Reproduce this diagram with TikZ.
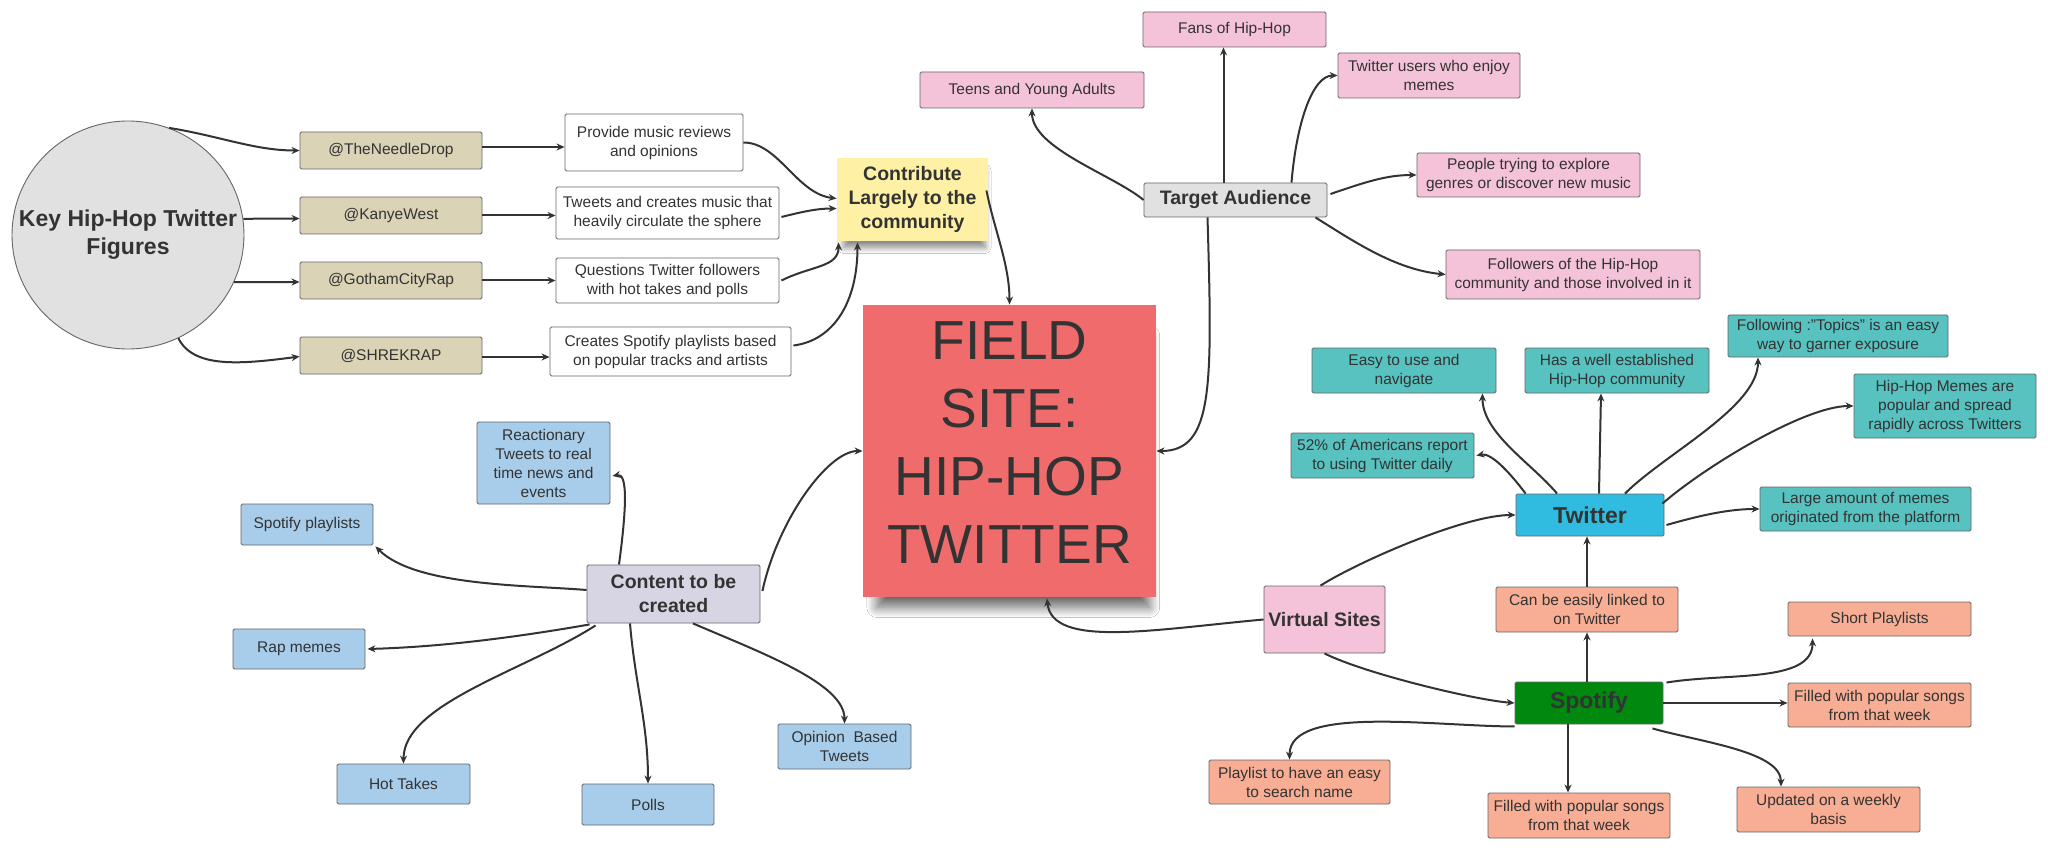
\documentclass[tikz,border=0pt]{standalone}
\usepackage{fontspec}
\setmainfont{Liberation Sans}
\usetikzlibrary{arrows.meta,calc,shapes.geometric,shadows.blur}
\definecolor{txt}{HTML}{333333}
\definecolor{bord}{HTML}{666666}
\definecolor{cgray}{HTML}{E1E1E1}
\definecolor{tan}{HTML}{DAD3B5}
\definecolor{pinkc}{HTML}{F5C3D9}
\definecolor{tealc}{HTML}{57C2BF}
\definecolor{salmon}{HTML}{F7AE94}
\definecolor{lblue}{HTML}{A8CDEA}
\definecolor{fieldred}{HTML}{F06C6C}
\definecolor{yel}{HTML}{FEF0A4}
\definecolor{lav}{HTML}{D7D5E3}
\definecolor{tblue}{HTML}{2FBCE0}
\definecolor{sgreen}{HTML}{00880F}
\begin{document}
\begin{tikzpicture}[x=1pt,y=-1pt,
  box/.style={draw=bord, line width=0.9pt, rounded corners=1.5pt, inner sep=0pt, align=center, text=txt, font=\fontsize{15.5}{19}\selectfont},
  hdr/.style={font=\bfseries\fontsize{19.5}{24}\selectfont},
  big/.style={font=\bfseries\fontsize{23}{28}\selectfont},
  arr/.style={draw=txt, line width=2pt, -{Stealth[length=8pt,width=7pt]}},
  shadbig/.style={blur shadow={shadow blur steps=16, shadow scale=0.93, shadow xshift=4pt, shadow yshift=-22pt, shadow blur radius=11pt, shadow opacity=60}},
  shadsmall/.style={blur shadow={shadow blur steps=12, shadow scale=0.94, shadow xshift=2pt, shadow yshift=-10pt, shadow blur radius=6pt, shadow opacity=45}}
]
\fill[white] (0,0) rectangle (2048,850);
\useasboundingbox (0,0) rectangle (2048,850);

% left cluster
\node[ellipse, draw=bord, line width=0.9pt, fill=cgray, minimum width=232pt, minimum height=228pt, inner sep=0pt,
  label={[big, text=txt, align=center]center:Key Hip-Hop Twitter\\Figures}] (circ) at (128,235) {};
\node[box, fill=tan, minimum width=182pt, minimum height=37pt] (needle) at (391,150.5) {@TheNeedleDrop};
\node[box, fill=tan, minimum width=182pt, minimum height=37pt] (kanye) at (391,215.5) {@KanyeWest};
\node[box, fill=tan, minimum width=182pt, minimum height=37pt] (gotham) at (391,280.5) {@GothamCityRap};
\node[box, fill=tan, minimum width=182pt, minimum height=37pt] (shrek) at (391,355.5) {@SHREKRAP};
\node[box, fill=white, minimum width=178pt, minimum height=57pt] (provide) at (654,142.5) {Provide music reviews\\and opinions};
\node[box, fill=white, minimum width=223pt, minimum height=52pt] (tweets) at (667.5,213) {Tweets and creates music that\\heavily circulate the sphere};
\node[box, fill=white, minimum width=223pt, minimum height=45pt] (questions) at (667.5,280.5) {Questions Twitter followers\\with hot takes and polls};
\node[box, fill=white, minimum width=241pt, minimum height=49pt] (creates) at (670.5,351.5) {Creates Spotify playlists based\\on popular tracks and artists};

\node[box, draw=none, rounded corners=0pt, fill=yel, shadsmall, hdr, minimum width=151pt, minimum height=83pt] (contrib) at (912.5,199.5) {Contribute\\Largely to the\\community};
\node[box, draw=none, rounded corners=0pt, fill=fieldred, shadbig, font=\fontsize{55}{68}\selectfont, text depth=17pt, minimum width=293pt, minimum height=292pt] (field) at (1009.5,451) {FIELD\\SITE:\\HIP-HOP\\TWITTER};

% target cluster
\node[box, fill=pinkc, minimum width=183pt, minimum height=35pt] (fans) at (1234.5,29.5) {Fans of Hip-Hop};
\node[box, fill=pinkc, minimum width=224pt, minimum height=36pt] (teens) at (1032,90) {Teens and Young Adults};
\node[box, fill=pinkc, minimum width=182pt, minimum height=45pt] (twusers) at (1429,75.5) {Twitter users who enjoy\\memes};
\node[box, fill=pinkc, minimum width=223pt, minimum height=44pt] (people) at (1528.5,175) {People trying to explore\\genres or discover new music};
\node[box, fill=pinkc, minimum width=254pt, minimum height=49pt] (followers) at (1573,274.5) {Followers of the Hip-Hop\\community and those involved in it};
\node[box, fill=cgray, hdr, minimum width=183pt, minimum height=34pt] (target) at (1235.5,200) {Target Audience};

% twitter cluster
\node[box, fill=tealc, minimum width=184pt, minimum height=45pt] (easy) at (1404,370.5) {Easy to use and\\navigate};
\node[box, fill=tealc, minimum width=184pt, minimum height=45pt] (has) at (1617,370.5) {Has a well established\\Hip-Hop community};
\node[box, fill=tealc, minimum width=220pt, minimum height=42pt] (following) at (1838,336) {Following :"Topics" is an easy\\way to garner exposure};
\node[box, fill=tealc, minimum width=182pt, minimum height=64pt] (memes) at (1945,406) {Hip-Hop Memes are\\popular and spread\\rapidly across Twitters};
\node[box, fill=tealc, minimum width=183pt, minimum height=45pt] (pct) at (1382.5,455.5) {52\% of Americans report\\to using Twitter daily};
\node[box, fill=tblue, big, minimum width=148pt, minimum height=42pt] (twitter) at (1590,515) {Twitter};
\node[box, fill=tealc, minimum width=211pt, minimum height=44pt] (large) at (1865.5,509) {Large amount of memes\\originated from the platform};

% spotify cluster
\node[box, fill=pinkc, hdr, minimum width=121pt, minimum height=67pt] (virtual) at (1324.5,619.5) {Virtual Sites};
\node[box, fill=salmon, minimum width=182pt, minimum height=45pt] (linked) at (1587,609.5) {Can be easily linked to\\on Twitter};
\node[box, fill=salmon, minimum width=183pt, minimum height=34pt] (short) at (1879.5,619) {Short Playlists};
\node[box, fill=sgreen, big, minimum width=148pt, minimum height=42pt] (spotify) at (1589,703) {Spotify};
\node[box, fill=salmon, minimum width=183pt, minimum height=44pt] (filledr) at (1879.5,705) {Filled with popular songs\\from that week};
\node[box, fill=salmon, minimum width=181pt, minimum height=44pt] (playlist) at (1299.5,782) {Playlist to have an easy\\to search name};
\node[box, fill=salmon, minimum width=182pt, minimum height=45pt] (filledb) at (1579,815.5) {Filled with popular songs\\from that week};
\node[box, fill=salmon, minimum width=183pt, minimum height=45pt] (updated) at (1828.5,809.5) {Updated on a weekly\\basis};

% content cluster
\node[box, fill=lblue, minimum width=133pt, minimum height=82pt] (react) at (543.5,463) {Reactionary\\Tweets to real\\time news and\\events};
\node[box, fill=lblue, minimum width=132pt, minimum height=41pt] (spotpl) at (307,524.5) {Spotify playlists};
\node[box, fill=lav, hdr, minimum width=173pt, minimum height=58pt] (content) at (673.5,594) {Content to be\\created};
\node[box, fill=lblue, minimum width=132pt, minimum height=40pt] (rap) at (299,649) {Rap memes};
\node[box, fill=lblue, minimum width=133pt, minimum height=40pt] (hot) at (403.5,784) {Hot Takes};
\node[box, fill=lblue, minimum width=132pt, minimum height=41pt] (polls) at (648,804.5) {Polls};
\node[box, fill=lblue, minimum width=133pt, minimum height=45pt] (opinion) at (844.5,746.5) {Opinion\ \ Based\\Tweets};

% connectors: left
\draw[arr] (circ.69) .. controls +(50,8) and +(-45,0) .. (needle.west);
\draw[arr] (circ.8) -- ($(kanye.west)+(0,3)$);
\draw[arr] (circ.-24) -- ($(gotham.west)+(0,1.5)$);
\draw[arr] (circ.-64) .. controls +(15,30) and +(-60,8) .. ($(shrek.west)+(0,1)$);
\draw[arr] ($(needle.east)+(0,-3.5)$) -- ($(provide.west)+(0,4.5)$);
\draw[arr] (kanye.east) -- (kanye.east -| tweets.west);
\draw[arr] (gotham.east) -- (gotham.east -| questions.west);
\draw[arr] ($(shrek.east)+(0,1.5)$) -- ($(shrek.east -| creates.west)+(0,1.5)$);
\draw[arr] (provide.east) .. controls +(35,0) and +(-40,-5) .. ($(contrib.west)+(0,-1)$);
\draw[arr] ($(tweets.east)+(2,4)$) .. controls +(20,-5) and +(-20,0) .. ($(contrib.west)+(0,9)$);
\draw[arr] ($(questions.east)+(2,0)$) .. controls +(30,-15) and +(0,25) .. ($(contrib.south west)+(2,1)$);
\draw[arr] ($(creates.east)+(2,-6)$) .. controls +(40,-5) and +(0,60) .. ($(contrib.south)+(-55,1)$);
\draw[arr] ($(contrib.east)+(-2,-9)$) .. controls +(8,40) and +(0,-40) .. (field.north);

% connectors: target
\draw[arr] ($(target.north)+(-12,0)$) -- ($(fans.south)+(-11,0)$);
\draw[arr] (target.west) .. controls +(-30,-25) and +(0,40) .. (teens.south);
\draw[arr] ($(target.north)+(56,0)$) .. controls +(5,-60) and +(-25,0) .. (twusers.west);
\draw[arr] ($(target.east)+(3,-6)$) .. controls +(35,-12) and +(-30,0) .. (people.west);
\draw[arr] ($(target.south east)+(-12,0)$) .. controls +(40,25) and +(-50,-5) .. (followers.west);
\draw[arr] ($(target.south)+(-28,0)$) .. controls +(5,170) and +(57,0) .. (field.east);

% connectors: content
\draw[arr] ($(content.east)+(2,-3)$) .. controls +(15,-70) and +(-35,0) .. (field.west);
\draw[arr] ($(content.north)+(-54.5,0)$) .. controls +(8,-60) and +(15,-3) .. ($(react.east)+(2,13)$);
\draw[arr] ($(content.west)+(0,-4)$) .. controls +(-60,-5) and +(40,40) .. ($(spotpl.south east)+(2,1)$);
\draw[arr] ($(content.south west)+(3,1)$) .. controls +(-80,14) and +(70,-2) .. ($(rap.east)+(2,0)$);
\draw[arr] ($(content.south west)+(9,2)$) .. controls +(-70,45) and +(0,-60) .. (hot.north);
\draw[arr] ($(content.south)+(-43.5,0)$) .. controls +(5,60) and +(0,-60) .. (polls.north);
\draw[arr] ($(content.south)+(19.5,0)$) .. controls +(70,30) and +(0,-40) .. (opinion.north);

% connectors: virtual / spotify
\draw[arr] (virtual.west) .. controls +(-110,10) and +(5,50) .. ($(field.south)+(37.5,1)$);
\draw[arr] ($(virtual.north)+(-4,0)$) .. controls +(40,-25) and +(-50,0) .. (twitter.west);
\draw[arr] (virtual.south) .. controls +(40,20) and +(-40,-3) .. (spotify.west);
\draw[arr] (spotify.north -| linked.south) -- (linked.south);
\draw[arr] (linked.north) -- (linked.north |- twitter.south);
\draw[arr] ($(spotify.north east)+(3,1)$) .. controls +(60,-10) and +(0,45) .. ($(short.south west)+(25,2)$);
\draw[arr] (spotify.east) -- (spotify.east -| filledr.west);
\draw[arr] ($(spotify.south west)+(0,2)$) .. controls +(-80,0) and +(0,-55) .. ($(playlist.north)+(-10,0)$);
\draw[arr] ($(spotify.south)+(-21,0)$) -- ($(filledb.north)+(-11,0)$);
\draw[arr] ($(spotify.south east)+(-11,4)$) .. controls +(50,14) and +(0,-35) .. ($(updated.north)+(-47.5,0)$);

% connectors: twitter
\draw[arr] ($(twitter.north west)+(10,0)$) .. controls +(-15,-20) and +(15,-3) .. ($(pct.east)+(2,0)$);
\draw[arr] ($(twitter.north)+(-33,0)$) .. controls +(-25,-30) and +(0,40) .. ($(easy.south east)+(-14,0)$);
\draw[arr] ($(twitter.north)+(9,0)$) -- ($(has.south)+(-16,0)$);
\draw[arr] ($(twitter.north)+(35,0)$) .. controls +(40,-40) and +(0,50) .. ($(following.south)+(-80,0)$);
\draw[arr] ($(twitter.north east)+(-2,10)$) .. controls +(40,-35) and +(-50,0) .. (memes.west);
\draw[arr] ($(twitter.east)+(2,10)$) .. controls +(35,-10) and +(-30,0) .. (large.west);
\end{tikzpicture}
\end{document}
